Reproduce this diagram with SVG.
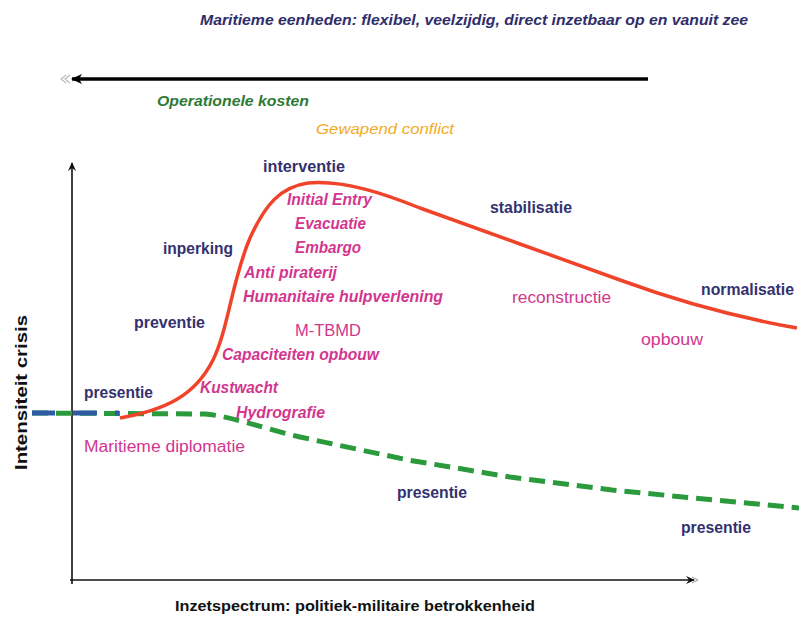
<svg xmlns="http://www.w3.org/2000/svg" width="799" height="620" viewBox="0 0 799 620">
<style>
text{font-family:"Liberation Sans",Arial,sans-serif}
.nv{fill:#34316f;font-weight:bold;font-size:16px}
.mg{fill:#d2368e;font-size:16px}
.mi{fill:#d2368e;font-size:16px;font-style:italic;font-weight:bold}
.ax{stroke:#111;stroke-width:1.6;fill:none}
</style>
<defs>
<marker id="ah" markerWidth="10" markerHeight="10" refX="8" refY="5" orient="auto" markerUnits="userSpaceOnUse">
<path d="M0,1 L9,5 L0,9 L3,5 Z" fill="#111"/>
</marker>
<marker id="ahBig" markerWidth="14" markerHeight="14" refX="10" refY="7" orient="auto" markerUnits="userSpaceOnUse">
<path d="M0,2 L11,7 L0,12 L3,7 Z" fill="#000"/>
</marker>
</defs>
<rect width="799" height="620" fill="#fff"/>
<g id="title"><text x="200" y="25" font-size="15" font-weight="bold" font-style="italic" fill="#2f2d6a" textLength="548" lengthAdjust="spacingAndGlyphs">Maritieme eenheden: flexibel, veelzijdig, direct inzetbaar op en vanuit zee</text></g>
<g id="connectors">
<line x1="648" y1="79" x2="72" y2="79" stroke="#000" stroke-width="3.5" marker-end="url(#ahBig)"/>
<path d="M66,75 L61,79 L66,83 M70,75 L65,79 L70,83" stroke="#bbb" stroke-width="1.2" fill="none"/>
<line class="ax" x1="72" y1="584" x2="72" y2="163" marker-end="url(#ah)"/>
<line class="ax" x1="70" y1="580" x2="694" y2="580" marker-end="url(#ah)"/>
<path d="M692,577 L698,580 L692,583" stroke="#999" stroke-width="1" fill="none"/>
<path id="green" d="M32,413 L205,414 C230,416 262,428 300,437 L408,460 L510,477 L612,490 L714,500 L799,508" fill="none" stroke="#2b9a3d" stroke-width="5" stroke-dasharray="16,8"/>
<path id="blue" d="M32,413 L55,413 M73,413 L97,413 M115,413 L119,413" stroke="#2d5aa3" stroke-width="5" fill="none"/>
<path id="red" d="M120,418 C165,410 195,396 213,360 C228,330 232,280 250,238 C265,205 280,187 308,183 C345,180 385,194 420,208 C480,230 560,258 620,280 S740,318 797,328" fill="none" stroke="#f0442a" stroke-width="3.5" stroke-linejoin="round"/>
</g>
<g id="operationele-kosten"><text x="157" y="106" font-size="15" font-weight="bold" font-style="italic" fill="#2d7a36" textLength="152" lengthAdjust="spacingAndGlyphs">Operationele kosten</text></g>
<g id="gewapend-conflict"><text x="316" y="134" font-size="15" font-style="italic" fill="#f3ab1e" textLength="138" lengthAdjust="spacingAndGlyphs">Gewapend conflict</text></g>
<g id="y-label"><text transform="translate(27,470) rotate(-90)" x="0" y="0" font-size="17" font-weight="bold" fill="#111" textLength="155" lengthAdjust="spacingAndGlyphs">Intensiteit crisis</text></g>
<g id="x-label"><text x="175" y="611" font-size="15" font-weight="bold" fill="#111" textLength="360" lengthAdjust="spacingAndGlyphs">Inzetspectrum: politiek-militaire betrokkenheid</text></g>
<g id="interventie"><text class="nv" x="263" y="172" textLength="82" lengthAdjust="spacingAndGlyphs">interventie</text></g>
<g id="initial-entry"><text class="mi" x="287" y="205" textLength="85" lengthAdjust="spacingAndGlyphs">Initial Entry</text></g>
<g id="evacuatie"><text class="mi" x="295" y="229" textLength="71" lengthAdjust="spacingAndGlyphs">Evacuatie</text></g>
<g id="embargo"><text class="mi" x="295" y="253" textLength="66" lengthAdjust="spacingAndGlyphs">Embargo</text></g>
<g id="inperking"><text class="nv" x="163" y="254" textLength="70" lengthAdjust="spacingAndGlyphs">inperking</text></g>
<g id="anti-piraterij"><text class="mi" x="244" y="278" textLength="93" lengthAdjust="spacingAndGlyphs">Anti piraterij</text></g>
<g id="humanitaire"><text class="mi" x="243" y="302" textLength="200" lengthAdjust="spacingAndGlyphs">Humanitaire hulpverlening</text></g>
<g id="preventie"><text class="nv" x="134" y="328" textLength="71" lengthAdjust="spacingAndGlyphs">preventie</text></g>
<g id="m-tbmd"><text class="mg" x="295" y="336" textLength="66" lengthAdjust="spacingAndGlyphs">M-TBMD</text></g>
<g id="capaciteiten"><text class="mi" x="222" y="360" textLength="157" lengthAdjust="spacingAndGlyphs">Capaciteiten opbouw</text></g>
<g id="presentie-1"><text class="nv" x="84" y="398" textLength="69" lengthAdjust="spacingAndGlyphs">presentie</text></g>
<g id="kustwacht"><text class="mi" x="200" y="393" textLength="78" lengthAdjust="spacingAndGlyphs">Kustwacht</text></g>
<g id="hydrografie"><text class="mi" x="236" y="418" textLength="89" lengthAdjust="spacingAndGlyphs">Hydrografie</text></g>
<g id="maritieme-diplomatie"><text class="mg" x="84" y="452" textLength="161" lengthAdjust="spacingAndGlyphs">Maritieme diplomatie</text></g>
<g id="stabilisatie"><text class="nv" x="490" y="213" textLength="82" lengthAdjust="spacingAndGlyphs">stabilisatie</text></g>
<g id="reconstructie"><text class="mg" x="512" y="303" textLength="99" lengthAdjust="spacingAndGlyphs">reconstructie</text></g>
<g id="normalisatie"><text class="nv" x="701" y="295" textLength="93" lengthAdjust="spacingAndGlyphs">normalisatie</text></g>
<g id="opbouw"><text class="mg" x="641" y="345" textLength="62" lengthAdjust="spacingAndGlyphs">opbouw</text></g>
<g id="presentie-2"><text class="nv" x="397" y="498" textLength="70" lengthAdjust="spacingAndGlyphs">presentie</text></g>
<g id="presentie-3"><text class="nv" x="681" y="533" textLength="70" lengthAdjust="spacingAndGlyphs">presentie</text></g>
</svg>
